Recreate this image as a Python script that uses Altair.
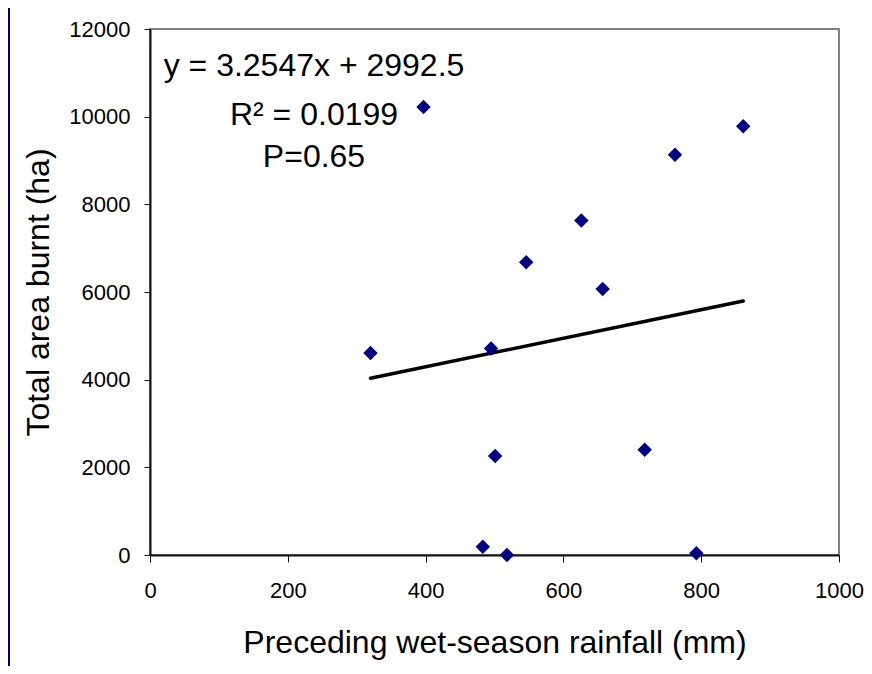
import altair as alt
import pandas as pd

# ---- data ----
rain_mm = [397, 320, 495, 501, 483, 518, 546, 626, 657, 718, 762, 793, 861]
area_ha = [10220, 4610, 4710, 2260, 190, 0, 6680, 7630, 6070, 2400, 9130, 40, 9780]
slope = 3.2547
intercept = 2992.5
annotation_lines = ["y = 3.2547x + 2992.5", "R\u00b2 = 0.0199", "P=0.65"]
x_ticks = [0, 200, 400, 600, 800, 1000]
y_ticks = [0, 2000, 4000, 6000, 8000, 10000, 12000]
x_title = "Preceding wet-season rainfall (mm)"
y_title = "Total area burnt (ha)"

FONT = "Liberation Sans"
NAVY = "#000080"

pts = pd.DataFrame({"rain": rain_mm, "area": area_ha})
x_lo, x_hi = min(rain_mm), max(rain_mm)
trend = pd.DataFrame({"rain": [x_lo, x_hi],
                      "area": [slope * x_lo + intercept, slope * x_hi + intercept]})

xscale = alt.Scale(domain=[0, 1000], nice=False)
yscale = alt.Scale(domain=[0, 12000], nice=False)

xaxis = alt.Axis(values=x_ticks, title=x_title, grid=False, format="d",
                 domainColor="#111", domainWidth=2,
                 tickColor="#111", tickSize=7, tickWidth=1,
                 labelFont=FONT, labelFontSize=22, labelColor="#000",
                 labelBaseline="alphabetic", labelPadding=35, labelFlush=False,
                 labelOverlap=False,
                 titleFont=FONT, titleFontSize=32, titleFontWeight="normal",
                 titleColor="#000", titleBaseline="alphabetic", titleY=97)
yaxis = alt.Axis(values=y_ticks, title=y_title, grid=False, format="d",
                 domainColor="#111", domainWidth=2,
                 tickColor="#111", tickSize=6, tickWidth=1,
                 labelFont=FONT, labelFontSize=22, labelColor="#000",
                 labelPadding=14, labelFlush=False, labelOverlap=False,
                 titleFont=FONT, titleFontSize=32, titleFontWeight="normal",
                 titleColor="#000", titleBaseline="alphabetic",
                 titleAngle=270, titleX=-102, titleY=263)

points = alt.Chart(pts).mark_point(shape="diamond", filled=True, size=210,
                                   color=NAVY, opacity=1).encode(
    x=alt.X("rain:Q", scale=xscale, axis=xaxis),
    y=alt.Y("area:Q", scale=yscale, axis=yaxis),
)

line = alt.Chart(trend).mark_line(color="black", strokeWidth=3.5,
                                  strokeCap="round").encode(
    x=alt.X("rain:Q", scale=xscale),
    y=alt.Y("area:Q", scale=yscale),
)

baselines = [47, 96, 138]
texts = []
for txt, yb in zip(annotation_lines, baselines):
    texts.append(
        alt.Chart(pd.DataFrame({"t": [txt]})).mark_text(
            font=FONT, fontSize=32, color="#000", align="center",
            baseline="alphabetic").encode(
            text="t:N", x=alt.value(164), y=alt.value(yb))
    )

strip = alt.Chart(pd.DataFrame({"a": [0]})).mark_rect(color="#000070").encode(
    x=alt.value(-142), x2=alt.value(-140), y=alt.value(-21), y2=alt.value(637))

chart = alt.layer(strip, line, points, *texts).properties(
    width=689, height=526,
    padding={"left": 142, "top": 21, "right": 25, "bottom": 111},
    autosize=alt.AutoSizeParams(type="none"),
    background="white",
).configure_view(stroke="#808080", strokeWidth=2)

chart.save("out.html", embed_options={"renderer": "svg", "actions": False})
